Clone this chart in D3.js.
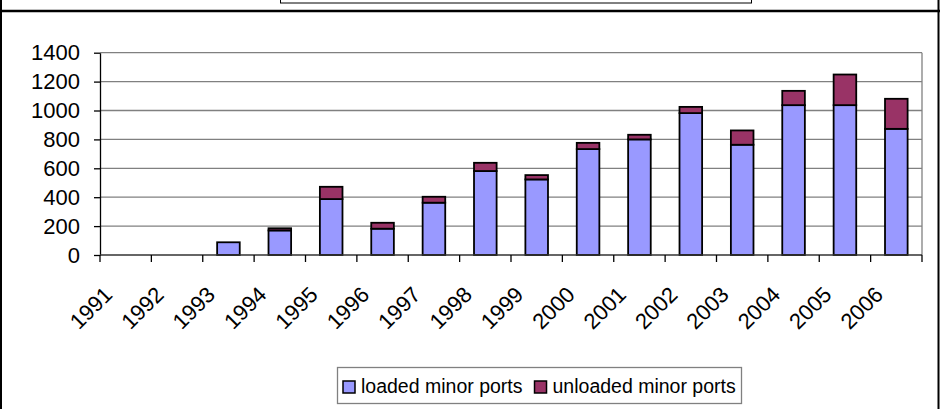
<!DOCTYPE html>
<html>
<head>
<meta charset="utf-8">
<script src="https://cdn.jsdelivr.net/npm/d3@7"></script>
<style>
  body { margin: 0; background: #fff; }
  svg { display: block; font-family: Arial, "Liberation Sans", sans-serif; }
</style>
</head>
<body>
<svg width="940" height="409"></svg>
<script>
var years = ['1991', '1992', '1993', '1994', '1995', '1996', '1997', '1998',
  '1999', '2000', '2001', '2002', '2003', '2004', '2005', '2006'];
var loaded = [0, 0, 88, 170, 387, 182, 362, 581, 523, 733, 800, 982, 763, 1037, 1037, 873];
var unloaded = [0, 0, 0, 15, 85, 41, 41, 57, 30, 43, 32, 43, 99, 99, 212, 208];
var yTicks = [0, 200, 400, 600, 800, 1000, 1200, 1400];
var seriesNames = ['loaded minor ports', 'unloaded minor ports'];
var colors = ['#9999ff', '#993366'];

var svg = d3.select('svg');
var W = +svg.attr('width');
var H = +svg.attr('height');
var plot = { l: 100, r: 922, t: 52.7, b: 255 };

// frame pieces around the chart
svg.append('line').attr('x1', 1).attr('x2', 1).attr('y1', 0).attr('y2', H)
  .attr('stroke', '#000').attr('stroke-width', 2);
svg.append('line').attr('x1', 938.5).attr('x2', 938.5).attr('y1', 0).attr('y2', H)
  .attr('stroke', '#000').attr('stroke-width', 2);
svg.append('line').attr('x1', 0).attr('x2', W).attr('y1', 11).attr('y2', 11)
  .attr('stroke', '#000').attr('stroke-width', 2.5);
svg.append('rect').attr('x', 280.5).attr('y', -5).attr('width', 471).attr('height', 8)
  .attr('fill', '#fff').attr('stroke', '#000').attr('stroke-width', 1);

var x = d3.scaleBand().domain(years).range([plot.l, plot.r]);
var y = d3.scaleLinear().domain([0, 1400]).range([plot.b, plot.t]);

var g = svg.append('g');

// gridlines
g.selectAll('.grid').data(yTicks.filter(d => d > 0)).enter()
  .append('line')
  .attr('class', 'grid')
  .attr('x1', plot.l).attr('x2', plot.r)
  .attr('y1', d => y(d)).attr('y2', d => y(d))
  .attr('stroke', '#808080').attr('stroke-width', 1.3);
g.append('line').attr('x1', plot.r).attr('x2', plot.r).attr('y1', plot.t).attr('y2', plot.b)
  .attr('stroke', '#808080').attr('stroke-width', 1.3);

// stacked bars
var stackData = years.map((yr, i) => ({ year: yr, loaded: loaded[i], unloaded: unloaded[i] }));
var stacked = d3.stack().keys(['loaded', 'unloaded'])(stackData);
var bw = x.bandwidth() * 0.44;
stacked.forEach(function(layer, k) {
  g.selectAll('.bar' + k).data(layer.filter(d => d[1] - d[0] > 0)).enter()
    .append('rect')
    .attr('class', 'bar' + k)
    .attr('x', d => x(d.data.year) + (x.bandwidth() - bw) / 2)
    .attr('y', d => y(d[1]))
    .attr('width', bw)
    .attr('height', d => y(d[0]) - y(d[1]))
    .attr('fill', colors[k])
    .attr('stroke', '#000')
    .attr('stroke-width', 1.8);
});

// axes
var yAxis = d3.axisLeft(y).tickValues(yTicks).tickFormat(d3.format('d'))
  .tickSize(6).tickPadding(14).tickSizeOuter(0);
var yAxisG = svg.append('g').attr('transform', 'translate(' + plot.l + ',0)').call(yAxis);
yAxisG.select('.domain').attr('stroke', '#000').attr('stroke-width', 1.3);
yAxisG.selectAll('.tick line').attr('stroke', '#000').attr('stroke-width', 1.3);
yAxisG.selectAll('.tick text').attr('font-size', 22).attr('fill', '#000')
  .attr('font-family', 'Arial, "Liberation Sans", sans-serif');

var xAxisG = svg.append('g').attr('transform', 'translate(0,' + plot.b + ')');
xAxisG.append('line').attr('x1', plot.l).attr('x2', plot.r)
  .attr('stroke', '#333').attr('stroke-width', 1.5);
var bounds = years.map(d => x(d)).concat([plot.r]);
xAxisG.selectAll('.xt').data(bounds).enter()
  .append('line')
  .attr('x1', d => d).attr('x2', d => d)
  .attr('y1', 0).attr('y2', 7)
  .attr('stroke', '#000').attr('stroke-width', 1.3);
xAxisG.selectAll('.xl').data(years).enter()
  .append('text')
  .attr('transform', d => 'translate(' + (x(d) + x.bandwidth() / 2 - 12) + ',' + 41 + ') rotate(-45)')
  .attr('text-anchor', 'end')
  .attr('font-size', 22)
  .text(d => d);

// legend, items laid out one after the other
var lg = svg.append('g');
lg.append('rect').attr('x', 337.5).attr('y', 367.5).attr('width', 404).attr('height', 36)
  .attr('fill', '#fff').attr('stroke', '#808080').attr('stroke-width', 1.3);
var cursor = 343;
seriesNames.forEach(function(name, i) {
  lg.append('rect').attr('x', cursor).attr('y', 381).attr('width', 12).attr('height', 12)
    .attr('fill', colors[i]).attr('stroke', '#000').attr('stroke-width', 1.5);
  var t = lg.append('text').attr('x', cursor + 18).attr('y', 393)
    .attr('font-size', 19.5).text(name);
  cursor += 18 + t.node().getComputedTextLength() + 12;
});
</script>
</body>
</html>
